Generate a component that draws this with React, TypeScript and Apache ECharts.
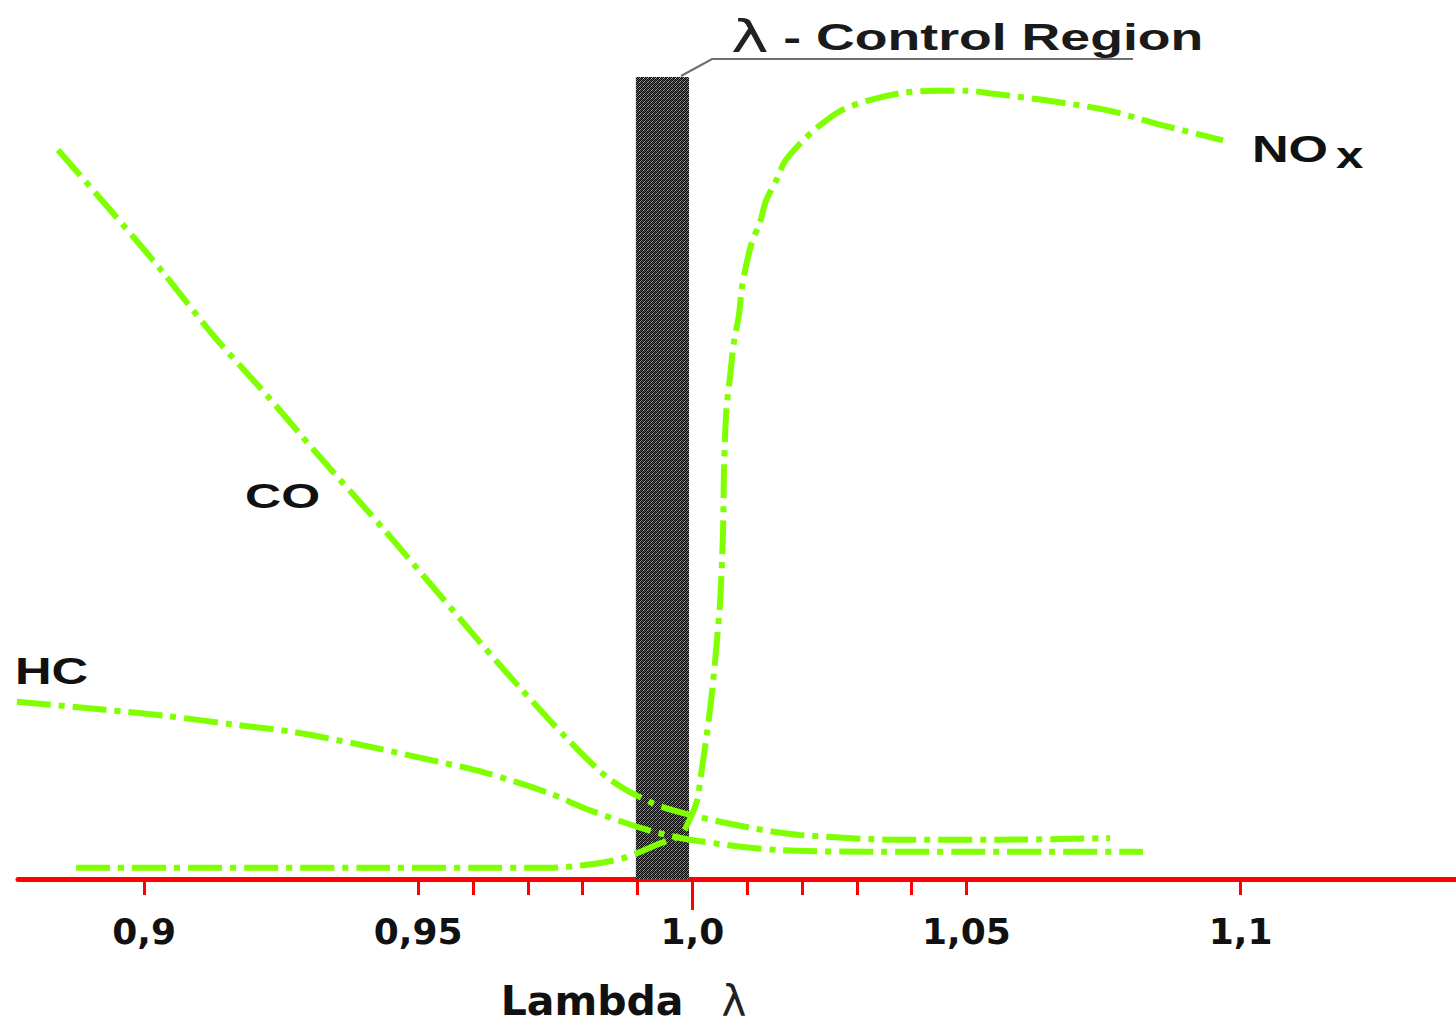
import React, { useEffect, useRef } from "react";
import * as echarts from "echarts";

// ---- Data (λ on x, relative emission on y, 0..100) ----
const coLambda = [0.8843, 0.8936, 0.9029, 0.9131, 0.9224, 0.9312, 0.9441, 0.9613, 0.9689, 0.9773, 0.985, 0.9926, 0.9996, 1.0105, 1.0196, 1.0379, 1.0561, 1.0762];
const coValues = [90.9, 83.6, 76.1, 67.4, 60.3, 53.3, 43.3, 29.5, 23.6, 17.4, 12.4, 9.5, 8.0, 6.4, 5.5, 4.9, 4.9, 5.1];

const hcLambda = [0.8768, 0.8929, 0.9044, 0.9159, 0.9275, 0.939, 0.9505, 0.962, 0.9735, 0.9812, 0.9919, 0.9996, 1.016, 1.0342, 1.0561, 1.0822];
const hcValues = [22.1, 21.1, 20.3, 19.3, 18.3, 16.8, 15.1, 13.3, 10.8, 8.6, 6.1, 4.9, 3.6, 3.4, 3.4, 3.4];

const noxLambda = [0.8876, 0.94, 0.9735, 0.9812, 0.9874, 0.9936, 0.9978, 0.9999, 1.0009, 1.0018, 1.0027, 1.0036, 1.0043, 1.0051, 1.0056, 1.0058, 1.0062, 1.0069, 1.0076, 1.0085, 1.0091, 1.0107, 1.0124, 1.0134, 1.0153, 1.0169, 1.0198, 1.0226, 1.0271, 1.0322, 1.0381, 1.0446, 1.0499, 1.055, 1.0654, 1.076, 1.0857, 1.0968];
const noxValues = [1.4, 1.4, 1.4, 1.8, 2.6, 4.3, 5.5, 8.0, 9.9, 14.0, 18.3, 23.3, 28.3, 34.9, 43.3, 51.5, 58.3, 62.8, 67.0, 70.3, 74.0, 79.0, 82.0, 84.5, 87.1, 89.5, 91.8, 93.6, 95.8, 97.1, 98.0, 98.3, 98.3, 97.9, 97.0, 95.8, 94.0, 92.1];

const controlRegion = [0.9897, 0.9994];

const tickValues = [0.9, 0.95, 0.96, 0.97, 0.98, 0.99, 1.0, 1.01, 1.02, 1.03, 1.04, 1.05, 1.1];
const labelValues = [0.9, 0.95, 1.0, 1.05, 1.1];
const labelTexts = ["0,9", "0,95", "1,0", "1,05", "1,1"];
const longTickValues = [1.0];

const GREEN = "#7fff00";
const RED = "#ff0000";

function pairs(xs: number[], ys: number[]) {
  return xs.map((x, i) => [x, ys[i]]);
}

function makePattern() {
  const c = document.createElement("canvas");
  c.width = 4;
  c.height = 4;
  const ctx = c.getContext("2d")!;
  const cols = [
    ["#000000", "#7a7a7a", "#141414", "#4a4a4a"],
    ["#9a9a9a", "#000000", "#5a5a5a", "#0a0a0a"],
    ["#141414", "#4a4a4a", "#000000", "#b0b0b0"],
    ["#5a5a5a", "#0a0a0a", "#7a7a7a", "#000000"],
  ];
  for (let y = 0; y < 4; y++) for (let x = 0; x < 4; x++) {
    ctx.fillStyle = cols[y][x];
    ctx.fillRect(x, y, 1, 1);
  }
  return c.toDataURL();
}

const lineStyleBase = {
  color: GREEN,
  width: 6,
  type: [34, 8, 6, 8] as any,
  cap: "butt" as const,
};

export default function App() {
  const ref = useRef<HTMLDivElement>(null);
  useEffect(() => {
    if (!ref.current) return;
    const chart = echarts.init(ref.current, null, { renderer: "svg" });
    const pattern = makePattern();
    const fmt = (v: number) => {
      const i = labelValues.findIndex((t) => Math.abs(t - v) < 1e-6);
      return i >= 0 ? labelTexts[i] : "";
    };
    const common = {
      type: "line",
      showSymbol: false,
      smooth: 0.3,
      silent: true,
      z: 5,
    };
    chart.setOption({
      animation: false,
      backgroundColor: "#ffffff",
      grid: { left: 18, right: 0, top: 77, bottom: 146, outerBoundsMode: "none", containLabel: false },
      xAxis: [
        {
          type: "value",
          min: 0.877,
          max: 1.1393,
          splitLine: { show: false },
          axisLine: { show: true, lineStyle: { color: RED, width: 5 } },
          axisTick: {
            show: true,
            customValues: tickValues,
            length: 16,
            lineStyle: { color: RED, width: 3 },
          },
          axisLabel: {
            customValues: labelValues,
            formatter: fmt,
            margin: 34,
            fontFamily: "DejaVu Sans",
            fontWeight: "bold",
            fontSize: 36,
            color: "#111",
          },
          name: "{a|Lambda}{l|λ}",
          nameLocation: "middle",
          nameGap: 102,
          nameTextStyle: {
            padding: [0, 227, 0, 0],
            rich: {
              a: { fontFamily: "DejaVu Sans", fontWeight: "bold", fontSize: 41, lineHeight: 40, color: "#111" },
              l: { fontFamily: "DejaVu Sans", fontWeight: "normal", fontSize: 42, lineHeight: 40, color: "#222", padding: [0, 0, 0, 38] },
            },
          },
        },
        {
          type: "value",
          min: 0.877,
          max: 1.1393,
          position: "bottom",
          splitLine: { show: false },
          axisLine: { show: false },
          axisTick: {
            show: true,
            customValues: longTickValues,
            length: 31,
            lineStyle: { color: RED, width: 3 },
          },
          axisLabel: { show: false },
        },
      ],
      yAxis: {
        type: "value",
        min: 0,
        max: 100,
        show: false,
        splitLine: { show: false },
      },
      series: [
        {
          ...common,
          name: "CO",
          data: pairs(coLambda, coValues),
          lineStyle: lineStyleBase,
        },
        {
          ...common,
          name: "HC",
          data: pairs(hcLambda, hcValues),
          lineStyle: lineStyleBase,
        },
        {
          ...common,
          name: "NOx",
          data: pairs(noxLambda, noxValues),
          lineStyle: lineStyleBase,
          markArea: {
            silent: true,
            z: 1,
            itemStyle: {
              color: { image: pattern, repeat: "repeat", imageWidth: 4, imageHeight: 4 } as any,
              borderWidth: 0,
            },
            label: { show: false },
            data: [[{ xAxis: controlRegion[0], yAxis: 0 }, { xAxis: controlRegion[1], yAxis: 100 }]],
          },
        },
      ],
      graphic: [
        {
          type: "polyline",
          shape: { points: [[681, 76], [712, 59], [1133, 59]] },
          style: { stroke: "#6e6e6e", lineWidth: 2, fill: null },
          silent: true,
        },
        {
          type: "text",
          x: 731,
          y: 37,
          scaleX: 1.45,
          style: {
            text: "{l|λ}{b|- Control Region}",
            textAlign: "left",
            textVerticalAlign: "middle",
            rich: {
              l: { fontFamily: "DejaVu Sans", fontWeight: "normal", fontSize: 44, fill: "#222", lineHeight: 46, padding: [0, 10, 0, 0] },
              b: { fontFamily: "Liberation Sans", fontWeight: "bold", fontSize: 37, fill: "#1a1a1a", lineHeight: 46 },
            },
          },
          silent: true,
        },
        {
          type: "text",
          x: 245,
          y: 496,
          scaleX: 1.43,
          style: {
            text: "CO",
            fontFamily: "Liberation Sans",
            fontWeight: "bold",
            fontSize: 35,
            fill: "#111",
            textAlign: "left",
            textVerticalAlign: "middle",
          },
          silent: true,
        },
        {
          type: "text",
          x: 15,
          y: 671,
          scaleX: 1.37,
          style: {
            text: "HC",
            fontFamily: "Liberation Sans",
            fontWeight: "bold",
            fontSize: 37,
            fill: "#111",
            textAlign: "left",
            textVerticalAlign: "middle",
          },
          silent: true,
        },
        {
          type: "text",
          x: 1252,
          y: 149,
          scaleX: 1.37,
          style: {
            text: "NO",
            fontFamily: "Liberation Sans",
            fontWeight: "bold",
            fontSize: 37,
            fill: "#111",
            textAlign: "left",
            textVerticalAlign: "middle",
          },
          silent: true,
        },
        {
          type: "text",
          x: 1336,
          y: 155,
          scaleX: 1.33,
          style: {
            text: "x",
            fontFamily: "Liberation Sans",
            fontWeight: "bold",
            fontSize: 37,
            fill: "#111",
            textAlign: "left",
            textVerticalAlign: "middle",
          },
          silent: true,
        },
      ],
    });
    return () => chart.dispose();
  }, []);
  return (
    <div
      ref={ref}
      style={{ position: "fixed", left: 0, top: 0, width: 1456, height: 1025, background: "#fff" }}
    />
  );
}
